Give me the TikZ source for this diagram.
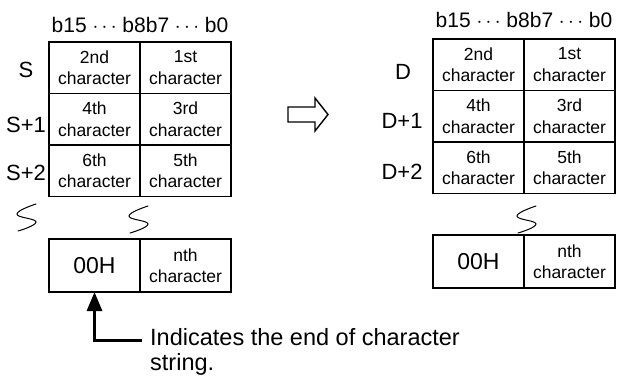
\documentclass[tikz,border=0pt]{standalone}
\usepackage{fontspec}
\setmainfont{Liberation Sans}
\usetikzlibrary{positioning, arrows.meta, calc}
\tikzset{
    cellbox/.style={rectangle, draw=black, line width=1.1pt, inner sep=0pt, outer sep=0pt, minimum width=91pt, minimum height=51.5pt, align=center, font=\fontsize{17.5}{21.5}\selectfont},
    endbox/.style={cellbox, minimum height=53pt},
    zerobox/.style={endbox, font=\fontsize{23}{27}\selectfont},
    reglbl/.style={font=\fontsize{22}{26}\selectfont, inner sep=0pt},
    bitlbl/.style={font=\fontsize{21}{25}\selectfont, inner sep=0pt},
    notelbl/.style={font=\fontsize{23.5}{28}\selectfont, inner sep=0pt, anchor=base west},
    squig/.style={line width=1pt, line cap=round},
    endptr/.style={-{Triangle[length=19pt, width=15pt]}, line width=3pt},
    hollowarr/.style={draw=black, line width=1.4pt, fill=white, line join=miter},
    brk/.pic={\draw[squig] plot[smooth, tension=0.8] coordinates {(9,-13) (-10,-3) (9,5) (-9,14)};}
}
\newcommand{\bitrow}{b15$\;\cdots\;$b8b7$\;\cdots\;$b0}

\begin{document}
\begin{tikzpicture}[x=1pt, y=-1pt]
    \useasboundingbox (0,0) rectangle (617,376);

    % Source words S .. S+2
    \node[bitlbl] (sbits) at (140,25) {\bitrow};
    \node[cellbox] (s2nd) at (94.5,67.75) {2nd\\character};
    \node[cellbox, right=0pt of s2nd] (s1st) {1st\\character};
    \node[cellbox, below=0pt of s2nd] (s4th) {4th\\character};
    \node[cellbox, right=0pt of s4th] (s3rd) {3rd\\character};
    \node[cellbox, below=0pt of s4th] (s6th) {6th\\character};
    \node[cellbox, right=0pt of s6th] (s5th) {5th\\character};
    \node[reglbl] (lblS) at (26,70) {S};
    \node[reglbl] (lblS1) at (26,125) {S+1};
    \node[reglbl] (lblS2) at (26,173) {S+2};

    % Source end word
    \pic at (27,217) {brk};
    \pic at (139,219) {brk};
    \node[zerobox] (szero) at (94.5,265.5) {00H};
    \node[endbox, right=0pt of szero] (snth) {nth\\character};

    % Transfer arrow
    \draw[hollowarr] (288,107) -- (315,107) -- (315,98) -- (328,114.5) -- (315,131) -- (315,122) -- (288,122) -- cycle;

    % Destination words D .. D+2
    \node[bitlbl] (dbits) at (524,20) {\bitrow};
    \node[cellbox] (d2nd) at (478.5,64.75) {2nd\\character};
    \node[cellbox, right=0pt of d2nd] (d1st) {1st\\character};
    \node[cellbox, below=0pt of d2nd] (d4th) {4th\\character};
    \node[cellbox, right=0pt of d4th] (d3rd) {3rd\\character};
    \node[cellbox, below=0pt of d4th] (d6th) {6th\\character};
    \node[cellbox, right=0pt of d6th] (d5th) {5th\\character};
    \node[reglbl] (lblD) at (403,72) {D};
    \node[reglbl] (lblD1) at (402,121) {D+1};
    \node[reglbl] (lblD2) at (402,172) {D+2};

    % Destination end word
    \pic at (527,219) {brk};
    \node[zerobox] (dzero) at (478.5,261.5) {00H};
    \node[endbox, right=0pt of dzero] (dnth) {nth\\character};

    % Note on the terminating 00H
    \node[notelbl] (note) at (150,345) {Indicates the end of character};
    \node[notelbl] (note2) at ($(note.base west)+(0,25)$) {string.};
    \draw[endptr] ([xshift=-8pt, yshift=5pt]note.base west) -| (szero.south);
\end{tikzpicture}
\end{document}
